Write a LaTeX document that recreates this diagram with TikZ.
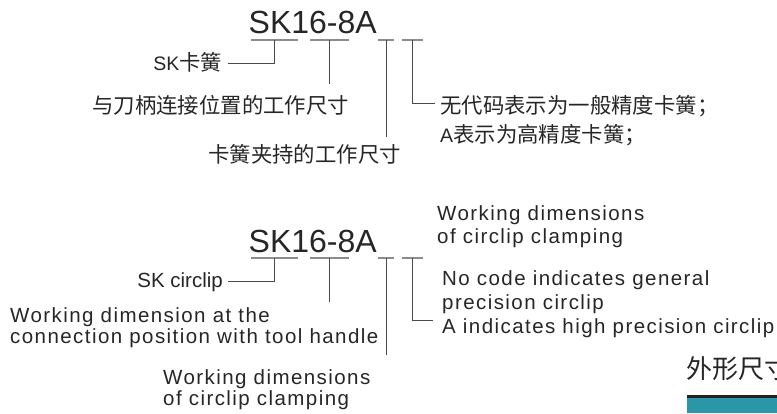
\documentclass[tikz,border=0pt]{standalone}
\usepackage{fontspec}
\setmainfont{Liberation Sans}
\newfontfamily\cjk{Noto Sans CJK SC}
\newfontfamily\enwide[LetterSpace=7]{Liberation Sans}
\usetikzlibrary{positioning}
\definecolor{inkdark}{HTML}{262626}
\definecolor{rulegray}{HTML}{8C8C8C}
\definecolor{leadgray}{HTML}{4A4A4A}
\definecolor{barteal}{HTML}{2A96A7}
\definecolor{bardark}{HTML}{222222}
\tikzset{
  code/.style={font=\fontsize{32}{38}\selectfont, text=inkdark, inner sep=0pt, anchor=base west},
  part/.style={draw=rulegray, line width=1.6pt},
  lead/.style={draw=leadgray, line width=1pt},
  zh/.style={font=\cjk\fontsize{21.4}{29}\selectfont, text=inkdark, inner sep=0pt, align=left},
  en/.style={font=\enwide\fontsize{20.5}{21}\selectfont, text=inkdark, inner sep=0pt, align=left},
}

\begin{document}
\begin{tikzpicture}[x=1pt,y=-1pt]
  \useasboundingbox (0,0) rectangle (777,413);
  % chinese key
  \node[code] (zcode) at (248.5,33) {SK16-8A};
  \foreach \n/\a/\b/\m in {za/251/298/274.5, zb/310/349/329.5, zc/378/394/386, zd/402/423/412} {
    \draw[part] (\a,40) -- (\b,40);
    \coordinate (\n) at (\m,40);
  }
  \node[zh, anchor=base east] (zsk) at (222.5,70) {{\rmfamily\fontsize{19.5}{29}\selectfont SK}卡簧};
  \node[zh, anchor=base west] (zconn) at (92,113.5) {与刀柄连接位置的工作尺寸};
  \node[zh, anchor=base west] (zclamp) at (208,162) {卡簧夹持的工作尺寸};
  % base of a two-line node is its last line
  \node[zh, anchor=base west] (zprec) at (440,142.5) {无代码表示为一般精度卡簧；\\{\rmfamily\fontsize{19.5}{29}\selectfont A}表示为高精度卡簧；};
  \coordinate (zsk-end) at (228,63);
  \coordinate (zconn-end) at (329.5,84);
  \coordinate (zclamp-end) at (386,137);
  \coordinate (zprec-end) at (435,103);
  \draw[lead] (za) |- (zsk-end);
  \draw[lead] (zb) -- (zconn-end);
  \draw[lead] (zc) -- (zclamp-end);
  \draw[lead] (zd) |- (zprec-end);

  % english key
  \node[code] (ecode) at (248.5,252) {SK16-8A};
  \foreach \n/\a/\b/\m in {ea/251/298/274.5, eb/310/349/329.5, ec/378/394/386, ed/402/423/412.5} {
    \draw[part] (\a,258) -- (\b,258);
    \coordinate (\n) at (\m,258);
  }
  \node[en, anchor=base east, font=\fontsize{20.5}{21}\selectfont] (esk) at (223,287) {SK circlip};
  \node[en, anchor=base west] (econn) at (10,343) {Working dimension at the\\connection position with tool handle};
  \node[en, anchor=base west] (eclamp) at (163,405) {Working dimensions\\of circlip clamping};
  \node[en, anchor=base west, font=\enwide\fontsize{20.5}{23}\selectfont] (eclamptop) at (437,243) {Working dimensions\\of circlip clamping};
  \node[en, anchor=base west, font=\enwide\fontsize{20.5}{24}\selectfont] (eprec) at (442,333) {No code indicates general\\precision circlip\\A indicates high precision circlip};
  \coordinate (esk-end) at (228,281);
  \coordinate (econn-end) at (329.5,302);
  \coordinate (eclamp-end) at (386,355);
  \coordinate (eprec-end) at (433,320);
  \draw[lead] (ea) |- (esk-end);
  \draw[lead] (eb) -- (econn-end);
  \draw[lead] (ec) -- (eclamp-end);
  \draw[lead] (ed) |- (eprec-end);

  % cut-off heading and bar at the corner
  \begin{scope}
    \clip (0,0) rectangle (777,413);
    \node[inner sep=0pt, anchor=base west, text=inkdark, font=\cjk\fontsize{26}{30}\selectfont] (shape) at (686,378) {外形尺寸};
    \fill[bardark] (687,395) rectangle (777,397.5);
    \fill[barteal] (687,397.5) rectangle (777,413);
  \end{scope}
\end{tikzpicture}
\end{document}
